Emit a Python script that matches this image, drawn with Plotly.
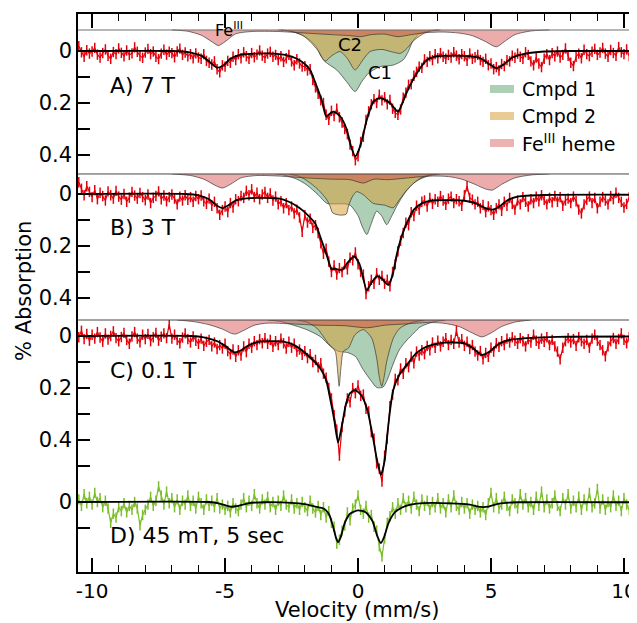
import plotly.graph_objects as go

# ---------------- data ----------------
velocity = [
    -10.5, -10.4, -10.3, -10.2, -10.1, -10.0, -9.9, -9.8, -9.7, -9.6,
    -9.5, -9.4, -9.3, -9.2, -9.1, -9.0, -8.9, -8.8, -8.7, -8.6,
    -8.5, -8.4, -8.3, -8.2, -8.1, -8.0, -7.9, -7.8, -7.7, -7.6,
    -7.5, -7.4, -7.3, -7.2, -7.1, -7.0, -6.9, -6.8, -6.7, -6.6,
    -6.5, -6.4, -6.3, -6.2, -6.1, -6.0, -5.9, -5.8, -5.7, -5.6,
    -5.5, -5.4, -5.3, -5.2, -5.1, -5.0, -4.9, -4.8, -4.7, -4.6,
    -4.5, -4.4, -4.3, -4.2, -4.1, -4.0, -3.9, -3.8, -3.7, -3.6,
    -3.5, -3.4, -3.3, -3.2, -3.1, -3.0, -2.9, -2.8, -2.7, -2.6,
    -2.5, -2.4, -2.3, -2.2, -2.1, -2.0, -1.9, -1.8, -1.7, -1.6,
    -1.5, -1.4, -1.3, -1.2, -1.1, -1.0, -0.9, -0.8, -0.7, -0.6,
    -0.5, -0.4, -0.3, -0.2, -0.1, 0.0, 0.1, 0.2, 0.3, 0.4,
    0.5, 0.6, 0.7, 0.8, 0.9, 1.0, 1.1, 1.2, 1.3, 1.4,
    1.5, 1.6, 1.7, 1.8, 1.9, 2.0, 2.1, 2.2, 2.3, 2.4,
    2.5, 2.6, 2.7, 2.8, 2.9, 3.0, 3.1, 3.2, 3.3, 3.4,
    3.5, 3.6, 3.7, 3.8, 3.9, 4.0, 4.1, 4.2, 4.3, 4.4,
    4.5, 4.6, 4.7, 4.8, 4.9, 5.0, 5.1, 5.2, 5.3, 5.4,
    5.5, 5.6, 5.7, 5.8, 5.9, 6.0, 6.1, 6.2, 6.3, 6.4,
    6.5, 6.6, 6.7, 6.8, 6.9, 7.0, 7.1, 7.2, 7.3, 7.4,
    7.5, 7.6, 7.7, 7.8, 7.9, 8.0, 8.1, 8.2, 8.3, 8.4,
    8.5, 8.6, 8.7, 8.8, 8.9, 9.0, 9.1, 9.2, 9.3, 9.4,
    9.5, 9.6, 9.7, 9.8, 9.9, 10.0, 10.1, 10.2, 10.3, 10.4,
    10.5,
]

# measured absorption in thousandths of a percent
A_data_milli = [
    -18, 5, 22, -3, 10, 2, -12, 14, 25, 8,
    -6, 18, 30, 4, 12, -10, 7, 20, -2, 15,
    9, -14, 3, 19, 26, 6, -8, 12, 2, 22,
    31, 10, -5, 14, 3, 8, 24, 2, -9, 15,
    6, 20, 12, 28, 9, 25, 30, 12, 38, 45,
    52, 40, 70, 82, 55, 60, 38, 45, 22, 35,
    12, 28, 5, 20, 30, 8, 24, 14, -2, 18,
    26, 10, 3, 22, 15, 35, 20, 42, 28, 15,
    40, 55, 32, 48, 60, 58, 75, 70, 112, 140,
    165, 190, 200, 245, 265, 230, 250, 222, 255, 275,
    300, 320, 360, 385, 420, 405, 350, 330, 265, 232,
    205, 185, 200, 168, 190, 178, 205, 188, 222, 238,
    245, 225, 180, 160, 130, 128, 95, 80, 60, 65,
    32, 42, 20, 35, 12, 28, 8, 22, 30, 15,
    25, 5, 18, 32, 12, 20, 38, 10, 30, 24,
    15, 35, 42, 30, 55, 48, 70, 62, 75, 50,
    58, 35, 40, 18, 26, 10, 22, 30, 5, 15,
    40, 55, 25, 48, 62, 30, 12, 35, 8, 20,
    2, 25, 15, -10, 18, 45, 58, 22, 10, 28,
    -5, 12, 20, 3, -8, 15, 6, -12, 10, 22,
    -4, 8, 18, -15, 5, 12, -6, 20, 2, -10,
    14,
]
B_data_milli = [
    -45, -20, 5, -30, -8, 12, -15, 20, -5, 8,
    25, -10, 5, 18, -12, 10, 22, 0, 30, 14,
    -8, 6, 18, -4, 12, 24, 2, 35, 15, 8,
    -10, 20, 6, 28, 12, 2, 18, 40, 10, 25,
    5, 22, 12, 30, 8, 20, 6, 28, 38, 18,
    45, 30, 55, 80, 62, 48, 70, 35, 52, 20,
    28, 8, 15, -12, 5, -18, 12, -5, 20, 2,
    -8, 15, -2, 25, 10, 40, 28, 55, 35, 62,
    48, 75, 60, 90, 145, 82, 110, 95, 130, 120,
    150, 190, 230, 210, 260, 300, 275, 310, 285, 300,
    270, 290, 245, 255, 225, 270, 300, 310, 385, 355,
    330, 345, 305, 330, 315, 345, 330, 355, 300, 270,
    220, 180, 150, 110, 120, 70, 85, 45, 60, 30,
    25, 48, 15, 38, 20, 30, 8, 25, 42, 18,
    10, 35, 20, 28, 45, 5, -30, 15, 22, 40,
    30, 55, 42, 70, 48, 62, 80, 55, 40, 65,
    30, 45, 15, 38, 60, 25, 40, 12, 30, 48,
    20, 35, 10, 28, 5, 22, 40, 15, 32, 8,
    30, 12, 45, 25, 18, 35, 10, 28, 60, 75,
    40, 22, 10, 35, 15, 55, 30, 12, 25, 40,
    8, 20, -5, 15, 30, 52, 38, 12, -15, 20,
    5,
]
C_data_milli = [
    5, -20, 12, -8, 18, -5, 10, -15, 6, 22,
    -10, 14, 0, -18, 8, 20, 4, -12, 15, 30,
    2, -15, 10, 24, -5, 12, -8, 20, 5, -12,
    18, 3, -10, 8, -45, 10, -5, 15, 28, 6,
    -10, 12, 25, 2, 18, 30, 10, 38, 22, 15,
    40, 25, 50, 35, 48, 30, 58, 70, 52, 80,
    55, 75, 40, 62, 30, 45, 20, 35, 12, 28,
    8, 30, 15, 42, 20, 35, 10, 28, 48, 22,
    45, 30, 60, 52, 72, 58, 85, 70, 100, 92,
    120, 105, 145, 160, 200, 240, 305, 360, 460, 350,
    290, 240, 255, 200, 220, 190, 230, 225, 280, 290,
    370, 395, 490, 510, 560, 460, 395, 270, 225, 165,
    170, 125, 145, 105, 120, 80, 105, 60, 75, 55,
    70, 38, 55, 25, 45, 18, 40, 22, 8, 35,
    15, 30, -20, 25, 12, 38, 22, 50, 35, 60,
    75, 58, 90, 65, 80, 45, 60, 28, 42, 20,
    35, 10, 25, 5, 18, 30, 8, 20, 40, 12,
    25, -5, 18, 30, 10, 22, 5, 35, 15, 40,
    60, 90, 45, 20, 8, 25, 12, 38, 5, 20,
    30, 15, 45, 10, -5, 18, 35, 55, 78, 40,
    20, 8, 30, 12, -10, 15, 28, 5, 22, -8,
    12,
]
D_data_milli = [
    -10, 15, -30, 5, -20, 10, -35, 0, -15, 20,
    -5, 25, 80, 45, 60, 20, 35, 5, 40, 15,
    30, 0, 25, 90, 50, 30, 10, -20, 15, -5,
    -60, -25, 10, -40, 5, -15, 20, -10, 30, -5,
    10, -25, 15, -5, 25, -20, 5, 30, -10, 15,
    -5, 20, -15, 25, 10, 30, 15, 40, 5, 25,
    35, 10, -15, 20, -5, 15, -30, 5, 25, -10,
    10, -20, 20, 0, 30, -5, 15, -25, 10, 20,
    -10, 25, 5, 30, 0, 20, 35, -5, 25, 40,
    15, 50, 20, 60, 35, 80, 95, 160, 145, 110,
    90, 40, 70, 25, 10, -25, 30, 45, 15, 60,
    50, 95, 110, 170, 210, 140, 80, 55, 20, 45,
    5, 30, -15, 20, -5, 25, -20, 10, 35, -10,
    15, -5, 30, 0, 20, -15, 25, 5, 40, -10,
    20, -25, 15, 30, 0, 25, 5, 45, 10, 30,
    15, 40, 20, 50, 5, -35, 20, -15, 25, 10,
    -20, 15, 35, -10, 5, 25, -30, 10, -15, 20,
    0, 30, -20, 15, -40, 20, -10, 25, 5, -25,
    15, 35, -15, 10, -30, 25, -5, 20, -20, 30,
    -10, 15, -35, 20, 5, -50, 25, -10, 30, 0,
    20, -25, 15, -5, 35, -15, 10, 30, -20, 5,
    15,
]
data_error = 0.02  # % absorption, error bar half-height

# fitted curves: (velocity mm/s, % absorption)
fit_A = [(-10.5, 0), (-7.0, 0), (-6.4, 0.004), (-5.9, 0.018), (-5.6, 0.04), (-5.3, 0.064),
         (-5.1, 0.058), (-4.8, 0.03), (-4.4, 0.014), (-3.8, 0.01), (-3.2, 0.01), (-2.7, 0.016),
         (-2.3, 0.03), (-2.0, 0.05), (-1.8, 0.073), (-1.55, 0.137), (-1.36, 0.19), (-1.2, 0.252),
         (-1.05, 0.24), (-0.93, 0.233), (-0.68, 0.25), (-0.43, 0.3), (-0.24, 0.375), (-0.1, 0.405),
         (0.075, 0.368), (0.33, 0.265), (0.58, 0.195), (0.83, 0.18), (1.2, 0.2), (1.5, 0.233),
         (1.83, 0.16), (2.07, 0.11), (2.58, 0.035), (3.0, 0.02), (3.6, 0.018), (4.2, 0.02),
         (4.6, 0.028), (4.9, 0.048), (5.2, 0.066), (5.5, 0.05), (5.8, 0.025), (6.3, 0.01),
         (7.0, 0.002), (8.0, 0), (10.5, 0)]
fit_B = [(-10.5, 0), (-6.5, 0), (-6.0, 0.005), (-5.6, 0.02), (-5.3, 0.045), (-5.1, 0.054),
         (-4.9, 0.045), (-4.6, 0.025), (-4.2, 0.017), (-3.6, 0.015), (-3.0, 0.017), (-2.6, 0.03),
         (-2.2, 0.054), (-1.9, 0.08), (-1.6, 0.115), (-1.4, 0.17), (-1.18, 0.235), (-1.0, 0.288),
         (-0.85, 0.287), (-0.7, 0.292), (-0.55, 0.288), (-0.4, 0.265), (-0.15, 0.24), (0.05, 0.268),
         (0.33, 0.37), (0.5, 0.342), (0.72, 0.316), (0.9, 0.326), (1.13, 0.35), (1.3, 0.312),
         (1.45, 0.235), (1.65, 0.16), (1.84, 0.11), (2.1, 0.06), (2.4, 0.036), (2.8, 0.025),
         (3.5, 0.024), (4.0, 0.026), (4.4, 0.035), (4.8, 0.055), (5.05, 0.06), (5.3, 0.05),
         (5.6, 0.025), (6.0, 0.01), (7.0, 0.004), (10.5, 0.003)]
fit_C = [(-10.5, 0), (-6.3, 0), (-5.8, 0.005), (-5.3, 0.02), (-5.0, 0.038), (-4.65, 0.063),
         (-4.4, 0.055), (-4.1, 0.035), (-3.7, 0.022), (-3.2, 0.02), (-2.8, 0.022), (-2.4, 0.035),
         (-1.93, 0.07), (-1.43, 0.123), (-1.2, 0.17), (-1.05, 0.24), (-0.9, 0.32), (-0.75, 0.41),
         (-0.6, 0.34), (-0.45, 0.26), (-0.3, 0.22), (-0.11, 0.208), (0.1, 0.225), (0.34, 0.28),
         (0.56, 0.39), (0.72, 0.48), (0.86, 0.535), (1.0, 0.48), (1.09, 0.39), (1.2, 0.29),
         (1.32, 0.21), (1.55, 0.15), (1.84, 0.11), (2.2, 0.065), (2.6, 0.04), (3.1, 0.027),
         (3.6, 0.025), (4.0, 0.028), (4.3, 0.045), (4.65, 0.073), (4.95, 0.06), (5.3, 0.03),
         (5.7, 0.015), (6.5, 0.007), (7.5, 0.003), (10.5, 0.002)]
fit_D = [(-10.5, 0), (-5.6, 0), (-5.2, 0.006), (-4.8, 0.018), (-4.5, 0.015), (-4.1, 0.004),
         (-3.5, 0.001), (-2.5, 0.003), (-2.0, 0.008), (-1.6, 0.018), (-1.3, 0.025), (-1.1, 0.045),
         (-0.95, 0.09), (-0.82, 0.14), (-0.75, 0.154), (-0.65, 0.135), (-0.5, 0.08), (-0.3, 0.045),
         (0.0, 0.032), (0.3, 0.04), (0.55, 0.075), (0.72, 0.13), (0.86, 0.158), (0.98, 0.135),
         (1.15, 0.08), (1.4, 0.038), (1.8, 0.015), (2.2, 0.006), (3.5, 0.005), (4.2, 0.01),
         (4.6, 0.019), (4.9, 0.018), (5.3, 0.006), (6.0, 0.001), (10.5, 0.001)]

# simulated sub-spectra (depth, % absorption)
A_cmpd1 = [(-3.0, 0), (-2.5, 0.006), (-2.0, 0.025), (-1.6, 0.06), (-1.4, 0.1), (-1.24, 0.122),
           (-0.8, 0.154), (-0.43, 0.199), (-0.11, 0.237), (0.14, 0.199), (0.39, 0.167), (0.83, 0.141),
           (1.33, 0.135), (1.7, 0.115), (1.89, 0.083), (2.05, 0.045), (2.3, 0.015), (2.7, 0.003), (3.0, 0)]
A_cmpd2 = [(-2.9, 0), (-2.5, 0.005), (-2.1, 0.02), (-1.8, 0.045), (-1.5, 0.08), (-1.24, 0.12),
           (-1.0, 0.1), (-0.68, 0.083), (-0.4, 0.11), (-0.11, 0.154), (0.15, 0.12), (0.45, 0.083),
           (0.9, 0.075), (1.3, 0.085), (1.6, 0.09), (1.85, 0.07), (2.1, 0.04), (2.5, 0.012),
           (2.8, 0.003), (3.1, 0)]
A_heme = [(-7.0, 0), (-6.4, 0.005), (-5.9, 0.02), (-5.5, 0.045), (-5.25, 0.06), (-5.0, 0.045),
          (-4.6, 0.015), (-4.0, 0.006), (-3.0, 0.006), (-2.0, 0.012), (-1.0, 0.018), (-0.3, 0.022),
          (0.1, 0.026), (0.5, 0.018), (1.0, 0.016), (1.5, 0.026), (2.0, 0.018), (2.6, 0.01),
          (3.2, 0.008), (3.8, 0.012), (4.3, 0.022), (4.8, 0.045), (5.2, 0.065), (5.5, 0.045),
          (5.9, 0.018), (6.5, 0.004), (7.2, 0)]
B_cmpd1 = [(-3.1, 0), (-2.8, 0.004), (-2.3, 0.02), (-1.93, 0.042), (-1.5, 0.08), (-1.17, 0.113),
           (-0.8, 0.115), (-0.5, 0.115), (-0.3, 0.12), (0.0, 0.16), (0.15, 0.2), (0.33, 0.233),
           (0.5, 0.19), (0.7, 0.143), (0.88, 0.16), (1.08, 0.195), (1.25, 0.165), (1.45, 0.125),
           (1.65, 0.09), (1.83, 0.064), (2.1, 0.035), (2.33, 0.02), (2.7, 0.006), (3.1, 0)]
B_cmpd2 = [(-2.6, 0), (-2.2, 0.01), (-1.93, 0.025), (-1.5, 0.06), (-1.17, 0.1), (-1.05, 0.125),
           (-0.95, 0.15), (-0.7, 0.158), (-0.45, 0.155), (-0.35, 0.12), (-0.2, 0.085), (-0.05, 0.068),
           (0.2, 0.08), (0.57, 0.113), (1.0, 0.12), (1.32, 0.13), (1.55, 0.1), (1.83, 0.062),
           (2.1, 0.035), (2.33, 0.017), (2.7, 0.003), (3.0, 0)]
B_heme = [(-7.0, 0), (-6.3, 0.006), (-5.8, 0.02), (-5.4, 0.042), (-5.1, 0.054), (-4.8, 0.04),
          (-4.4, 0.015), (-3.8, 0.006), (-3.0, 0.008), (-2.0, 0.015), (-1.0, 0.02), (-0.3, 0.022),
          (0.2, 0.035), (0.6, 0.02), (1.1, 0.022), (1.6, 0.018), (2.2, 0.012), (2.8, 0.008),
          (3.4, 0.01), (3.9, 0.02), (4.4, 0.04), (4.8, 0.058), (5.05, 0.062), (5.4, 0.04),
          (5.9, 0.015), (6.5, 0.004), (7.2, 0)]
C_cmpd1 = [(-3.4, 0), (-2.9, 0.006), (-2.55, 0.016), (-1.93, 0.037), (-1.43, 0.063), (-1.05, 0.1),
           (-0.75, 0.12), (-0.4, 0.125), (-0.1, 0.14), (0.19, 0.19), (0.5, 0.235), (0.71, 0.26),
           (0.94, 0.258), (1.1, 0.23), (1.28, 0.18), (1.55, 0.115), (1.84, 0.077), (2.1, 0.05),
           (2.33, 0.027), (2.8, 0.008), (3.3, 0)]
C_cmpd2 = [(-2.3, 0), (-1.93, 0.008), (-1.55, 0.031), (-1.12, 0.09), (-0.86, 0.12), (-0.78, 0.18),
           (-0.71, 0.255), (-0.64, 0.18), (-0.55, 0.12), (-0.36, 0.108), (-0.11, 0.056), (0.2, 0.037),
           (0.51, 0.069), (0.7, 0.146), (0.8, 0.22), (0.89, 0.255), (0.98, 0.22), (1.08, 0.159),
           (1.33, 0.069), (1.58, 0.031), (2.0, 0.01), (2.5, 0)]
C_heme = [(-6.8, 0), (-6.2, 0.006), (-5.6, 0.018), (-5.1, 0.035), (-4.75, 0.052), (-4.6, 0.054),
          (-4.3, 0.04), (-3.9, 0.02), (-3.4, 0.012), (-2.5, 0.015), (-1.5, 0.02), (-0.5, 0.022),
          (0.34, 0.03), (1.0, 0.02), (1.8, 0.015), (2.6, 0.01), (3.2, 0.012), (3.8, 0.025),
          (4.3, 0.05), (4.66, 0.065), (5.0, 0.05), (5.4, 0.025), (5.9, 0.008), (6.5, 0)]

panel_labels = ["A) 7 T", "B) 3 T", "C) 0.1 T", "D) 45 mT, 5 sec"]
legend_labels = ["Cmpd 1", "Cmpd 2", "Fe<sup>III</sup> heme"]
x_tick_vals = [-10, -5, 0, 5, 10]
x_tick_text = ["-10", "-5", "0", "5", "10"]
y_tick_vals = [0, 0.2, 0.4]
y_tick_text = ["0", "0.2", "0.4"]

# ---------------- styling ----------------
FONT = "DejaVu Sans"
RED = "rgb(228,0,10)"
GREEN_DATA = "rgb(122,190,40)"
C1_FILL = "rgba(90,160,110,0.5)"
C2_FILL = "rgba(215,160,60,0.55)"
HEME_FILL = "rgba(215,70,70,0.45)"
C1_SW = "rgb(172,207,182)"
C2_SW = "rgb(233,203,148)"
HEME_SW = "rgb(237,179,179)"
EDGE = "rgba(50,50,50,0.85)"


def unzip(pairs):
    return [p[0] for p in pairs], [p[1] for p in pairs]


def milli(vals):
    return [v / 1000 for v in vals]


fig = go.Figure()

# component baselines (axis units, top edge of each panel box)
comp_base = {"y": -0.081, "y2": -0.077, "y3": -0.0615}
components = [
    ("y", A_cmpd1, A_cmpd2, A_heme),
    ("y2", B_cmpd1, B_cmpd2, B_heme),
    ("y3", C_cmpd1, C_cmpd2, C_heme),
]
for yax, c1, c2, hm in components:
    for comp, fc in ((c1, C1_FILL), (c2, C2_FILL), (hm, HEME_FILL)):
        xs, ds = unzip(comp)
        fig.add_trace(go.Scatter(
            x=xs, y=[comp_base[yax] + d for d in ds], yaxis=yax, mode="lines",
            line=dict(color=EDGE, width=0.8, shape="spline", smoothing=0.7),
            fill="toself", fillcolor=fc, hoverinfo="skip", showlegend=False))

spectra = [
    ("y", A_data_milli, fit_A, RED),
    ("y2", B_data_milli, fit_B, RED),
    ("y3", C_data_milli, fit_C, RED),
    ("y4", D_data_milli, fit_D, GREEN_DATA),
]
for yax, dat, fit, col in spectra:
    fig.add_trace(go.Scatter(
        x=velocity, y=milli(dat), yaxis=yax, mode="lines",
        line=dict(color=col, width=1.2),
        error_y=dict(type="constant", value=data_error, color=col, thickness=1.5, width=0),
        showlegend=False, hoverinfo="skip"))
    fx, fy = unzip(fit)
    fig.add_trace(go.Scatter(
        x=fx, y=fy, yaxis=yax, mode="lines",
        line=dict(color="black", width=1.8, shape="spline", smoothing=0.6),
        showlegend=False, hoverinfo="skip"))

# ---------------- axes ----------------
tickfont = dict(family=FONT, size=21, color="black")
xtickfont = dict(family=FONT, size=20, color="black")
minor_vals = [v for v in range(-10, 11) if v % 5 != 0]
xcommon = dict(range=[-10.53, 10.49], showline=True, linecolor="black", linewidth=1.5,
               ticks="inside", ticklen=14, tickwidth=1.5, tickcolor="black",
               tickmode="array", tickvals=x_tick_vals, ticktext=x_tick_text,
               tickfont=xtickfont, showgrid=False, zeroline=False, automargin=False,
               ticklabeloverflow="allow",
               minor=dict(ticks="inside", ticklen=7, tickwidth=1.3, tickcolor="black",
                          tickmode="array", tickvals=minor_vals, showgrid=False))


def yaxis(domain, rng, n_major, minor_vals_y):
    return dict(domain=domain, range=rng, anchor="x", showline=True, linecolor="black",
                linewidth=1.5, ticks="inside", ticklen=12, tickwidth=1.5, tickcolor="black",
                tickmode="array", tickvals=y_tick_vals[:n_major], ticktext=y_tick_text[:n_major],
                tickfont=tickfont, showgrid=False, zeroline=False, automargin=False,
                minor=dict(ticks="inside", ticklen=12, tickwidth=1.5, tickcolor="black",
                           tickmode="array", tickvals=minor_vals_y, showgrid=False))


# the page body has an 8 px margin; the figure is sized so it ends at the window edge
fig.update_layout(
    width=629, height=615,
    margin=dict(l=70, r=0, t=6, b=51),
    paper_bgcolor="white", plot_bgcolor="rgba(0,0,0,0)",
    font=dict(family=FONT, color="black"),
    xaxis=dict(xcommon, anchor="y4", domain=[0, 1]),
    xaxis2=dict(xcommon, anchor="y", side="top", overlaying="x", showticklabels=False),
    yaxis=yaxis([0.7133, 1.0], [0.473, -0.1423], 3, [0.1, 0.3]),
    yaxis2=yaxis([0.4516, 0.7133], [0.4846, -0.0769], 3, [0.1, 0.3]),
    yaxis3=yaxis([0.138, 0.4516], [0.6115, -0.0615], 3, [0.1, 0.3, 0.5]),
    yaxis4=yaxis([0.0, 0.1828], [0.2692, -0.1231], 1, [0.1]),
    showlegend=False,
)

# dummy trace so the top mirror axis is drawn
fig.add_trace(go.Scatter(x=[None], y=[None], xaxis="x2", yaxis="y", showlegend=False,
                         hoverinfo="skip"))

# panel box lines
for yp, col in ((0.9713, "rgb(110,110,110)"), (0.7133, "rgb(70,70,70)"), (0.4516, "rgb(70,70,70)")):
    fig.add_shape(type="line", xref="paper", yref="paper", x0=0, x1=1, y0=yp, y1=yp,
                  line=dict(color=col, width=1))

# legend swatches
for (y0, y1), col in (((0.8584, 0.8728), C1_SW), ((0.8100, 0.8244), C2_SW), ((0.7616, 0.7760), HEME_SW)):
    fig.add_shape(type="rect", xref="paper", yref="paper", x0=0.737, x1=0.780, y0=y0, y1=y1,
                  line=dict(width=0), fillcolor=col)
for lab, yp in zip(legend_labels, (0.8656, 0.8172, 0.7688)):
    fig.add_annotation(text=lab, xref="paper", yref="paper", x=0.7907, y=yp, xanchor="left",
                       yanchor="middle", showarrow=False, font=dict(family=FONT, size=19))

# panel labels
for lab, yp in zip(panel_labels, (0.871, 0.6165, 0.362, 0.0663)):
    fig.add_annotation(text=lab, xref="paper", yref="paper", x=0.0537, y=yp, xanchor="left",
                       yanchor="middle", showarrow=False, font=dict(family=FONT, size=22))

# component labels
fig.add_annotation(text="Fe<sup>III</sup>", xref="paper", yref="paper", x=0.2415, y=0.973,
                   xanchor="left", yanchor="middle", showarrow=False, font=dict(family=FONT, size=16))
fig.add_annotation(text="C2", xref="paper", yref="paper", x=0.4866, y=0.9462,
                   xanchor="center", yanchor="middle", showarrow=False, font=dict(family=FONT, size=18))
fig.add_annotation(text="C1", xref="paper", yref="paper", x=0.5403, y=0.8943,
                   xanchor="center", yanchor="middle", showarrow=False, font=dict(family=FONT, size=18))

# axis titles
fig.add_annotation(text="% Absorption", xref="paper", yref="paper", x=-0.0966, y=0.5036,
                   textangle=-90, xanchor="center", yanchor="middle", showarrow=False,
                   font=dict(family=FONT, size=21))
fig.add_annotation(text="Velocity (mm/s)", xref="paper", yref="paper", x=0.4991, y=-0.068,
                   xanchor="center", yanchor="middle", showarrow=False,
                   font=dict(family=FONT, size=21))

fig.write_html("out.html")
